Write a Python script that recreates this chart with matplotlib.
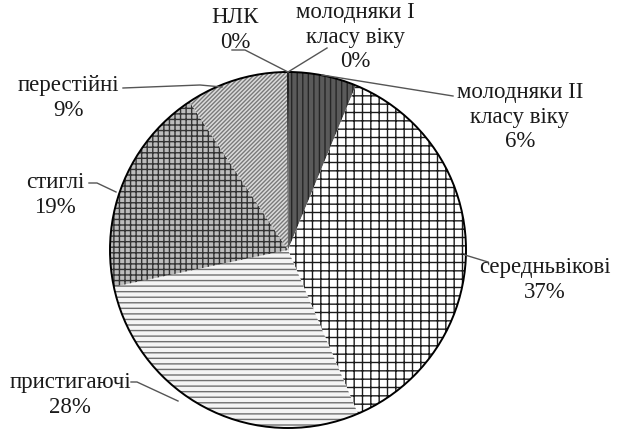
import numpy as np
import matplotlib.pyplot as plt
from matplotlib.patches import Circle

# slices clockwise from 12 o'clock
labels = ['молодняки I\nкласу віку', 'молодняки II\nкласу віку', 'середньвікові',
          'пристигаючі', 'стиглі', 'перестійні', 'НЛК']
values = [0.1, 6.1, 37.2, 28.0, 18.9, 9.2, 0.1]

faces = ['#222222', '#5a5a5a', 'white', '#f4f4f4', '#bcbcbc', '#dcdcdc', '#222222']
hcols = ['#222222', '#262626', '#1a1a1a', '#707070', '#333333', '#7a7a7a', '#222222']
hatches = ['', '|||', '++', '---', '+++', '////////', '']

# layout in pixels: pie centre / radius, label centres, leader line ends
CX, CY, R = 288, 250, 178
text_px = [(355, 37), (520, 117), (545, 280), (70, 395), (55, 195), (68, 98), (235, 30)]
line_px = [[(327, 48), (288, 72)],
           [(453, 96), (322, 75)],
           [(488, 262), (465, 255)],
           [(131, 382), (137, 382), (178, 401)],
           [(89, 183), (97, 183), (116, 192)],
           [(123, 88), (200, 85), (222, 87)],
           [(232, 50), (245, 50), (288, 72)]]

def d(p):
    return ((p[0] - CX) / R, (CY - p[1]) / R)

plt.rcParams['font.family'] = ['Liberation Serif', 'DejaVu Serif']
plt.rcParams['hatch.linewidth'] = 1.0

fig = plt.figure(figsize=(6.3, 4.36), dpi=100)
ax = fig.add_axes([0, 0, 1, 1])
wedges, _ = ax.pie(values, startangle=90, counterclock=False, radius=1,
                   wedgeprops=dict(linewidth=0))
for w, fc, hc, h in zip(wedges, faces, hcols, hatches):
    w.set_facecolor(fc)
    w.set_edgecolor(hc)
    w.set_hatch(h)
ax.add_patch(Circle((0, 0), 1, fill=False, edgecolor='black', linewidth=1.4, zorder=5))

total = sum(values)
for lab, v, tp, lp in zip(labels, values, text_px, line_px):
    x, y = d(tp)
    ax.text(x, y, lab + '\n' + '%.0f%%' % (100 * v / total), ha='center', va='center',
            fontsize=16.5, color='#1a1a1a', linespacing=1.2)
    pts = np.array([d(p) for p in lp])
    ax.plot(pts[:, 0], pts[:, 1], color='#555555', linewidth=1.0, zorder=6)

ax.set_xlim(-CX / R, (630 - CX) / R)
ax.set_ylim((CY - 436) / R, CY / R)
ax.set_aspect('auto')
ax.axis('off')
fig.savefig('out.png', dpi=100)
